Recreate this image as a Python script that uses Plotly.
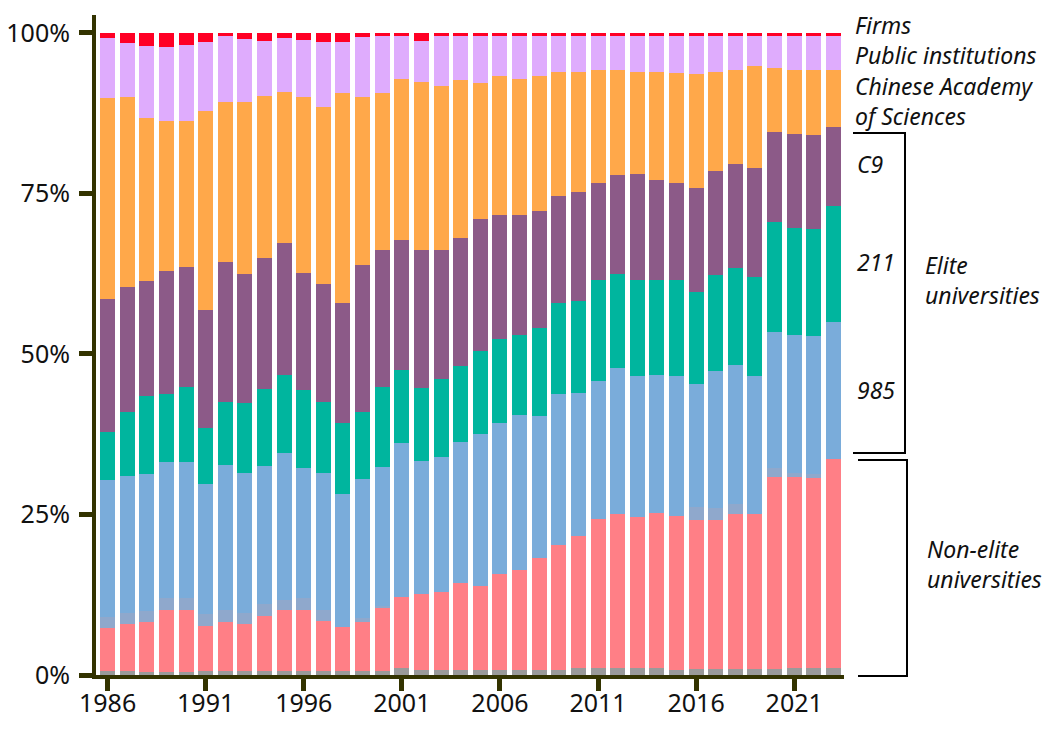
import plotly.graph_objects as go

years = list(range(1986, 2024))

other = [0.6,0.6,0.5,0.4,0.4,0.6,0.6,0.6,0.6,0.6,0.6,0.6,0.6,0.6,0.6,
         1.1,0.8,0.8,0.8,0.8,0.8,0.8,0.8,0.8,
         1.1,1.1,1.1,1.1,1.1,0.8,0.9,0.9,0.9,0.9,0.9,1.1,1.1,1.1]
non_elite = [6.7,7.3,7.8,9.8,9.8,7.1,7.7,7.3,8.6,9.5,9.6,7.8,6.9,7.7,9.8,
             11.0,11.8,12.1,13.5,13.1,15.0,15.6,17.4,19.4,20.5,23.2,23.9,23.5,24.1,24.0,
             23.2,23.2,24.1,24.1,30.0,29.8,29.6,32.5]
mixed = [1.7,1.7,1.7,1.8,1.8,1.8,1.8,1.7,1.9,1.6,1.8,1.8,0.0,0.6,0.4,
         0,0,0,0,0,0,0,0,0,0,0,0,0,0,0,
         2.0,1.9,1.7,0.0,1.3,0.6,0.6,0.0]
u985 = [21.4,21.4,21.3,21.2,21.2,20.2,22.6,21.9,21.4,22.9,20.2,21.3,20.7,21.7,21.6,
        24.0,20.7,21.1,22.0,23.7,23.4,24.1,22.1,23.6,22.3,21.5,22.8,21.9,21.6,21.7,
        19.2,21.3,21.6,21.5,21.3,21.5,21.5,21.4]
u211 = [7.5,9.9,12.2,10.6,11.6,8.7,9.8,10.8,12.0,12.2,12.2,11.1,11.0,10.4,12.5,
        11.4,11.4,12.1,11.8,12.8,13.2,12.5,13.7,14.2,14.4,15.8,14.6,15.1,14.8,15.1,
        14.4,15.0,15.1,15.5,17.0,16.6,16.7,18.1]
c9 = [20.6,19.5,17.9,19.1,18.8,18.4,21.8,20.1,20.5,20.5,18.2,18.3,18.7,22.9,21.3,
      20.2,21.5,20.1,19.9,20.7,19.2,18.6,18.3,16.6,16.9,15.1,15.5,16.4,15.5,15.1,
      16.2,16.2,16.2,17.0,14.1,14.6,14.6,12.3]
cas = [31.4,29.6,25.4,23.4,22.7,31.0,24.9,26.8,25.2,23.5,27.4,27.5,32.7,26.1,24.5,
       25.1,26.1,25.6,24.7,21.1,21.7,21.2,21.0,19.4,18.8,17.5,16.4,16.0,16.8,17.0,
       17.7,15.5,14.7,15.8,10.0,10.1,10.2,8.9]
public = [9.3,8.5,11.1,11.5,11.9,10.8,10.3,9.8,8.5,8.4,8.9,10.2,8.0,9.4,8.8,
          6.7,6.4,7.7,6.9,7.4,6.3,6.8,6.3,5.6,5.6,5.4,5.3,5.6,5.7,5.9,
          6.0,5.6,5.3,4.8,5.0,5.3,5.3,5.3]
firms = [0.8,1.5,2.1,2.2,1.8,1.4,0.5,1.0,1.3,0.8,1.1,1.4,1.4,0.6,0.5,
         0.5,1.3,0.5,0.4,0.4,0.4,0.4,0.4,0.4,0.4,0.4,0.4,0.4,0.4,0.4,
         0.4,0.4,0.4,0.4,0.4,0.4,0.4,0.4]

series = [
    ("Other", other, "#9a9a9a"),
    ("Non-elite universities", non_elite, "#ff7f86"),
    ("Mixed", mixed, "#8fa8cc"),
    ("985", u985, "#7aacda"),
    ("211", u211, "#00b59e"),
    ("C9", c9, "#8c5a88"),
    ("Chinese Academy of Sciences", cas, "#ffa84a"),
    ("Public institutions", public, "#dfacfd"),
    ("Firms", firms, "#ff0025"),
]

x_ticks = [1986, 1991, 1996, 2001, 2006, 2011, 2016, 2021]
y_ticks = [0, 25, 50, 75, 100]
y_text = ["0%", "25%", "50%", "75%", "100%"]

fig = go.Figure()
for name, vals, col in series:
    fig.add_trace(go.Bar(x=years, y=vals, name=name, marker=dict(color=col, line=dict(width=0))))

AX = "#333300"
FONT = "Noto Sans"
L, R, T, B = 96, 213, 15, 58
W, H = 1057, 733
pw, ph = W - L - R, H - T - B

def px(x):
    return (x - L) / pw

def py(y):
    return (H - B - y) / ph

tickfont = dict(family=FONT, size=25, color="#111111")
fig.update_layout(
    width=W, height=H,
    margin=dict(l=L, r=R, t=T, b=B, autoexpand=False),
    barmode="stack", bargap=0.235,
    plot_bgcolor="white", paper_bgcolor="white",
    showlegend=False,
    font=dict(family=FONT, size=24, color="#111111"),
    xaxis=dict(range=[1985.41, 2023.54], tickvals=x_ticks, ticks="outside", ticklen=12,
               tickwidth=5, tickcolor=AX, showline=True, linecolor=AX, linewidth=4,
               showgrid=False, zeroline=False, tickfont=tickfont, automargin=False,
               ticklabelstandoff=-9),
    yaxis=dict(range=[0, 102.8], tickvals=y_ticks, ticktext=y_text, ticks="outside", ticklen=13,
               tickwidth=5, tickcolor=AX, showline=True, linecolor=AX, linewidth=4,
               showgrid=False, zeroline=False, tickfont=tickfont, automargin=False,
               ticklabelstandoff=4),
)

labels = [
    ("Firms<br>Public institutions", 853, 40),
    ("Chinese Academy<br>of Sciences", 853, 101),
    ("C9", 855, 164),
    ("211", 855, 262),
    ("985", 855, 390),
    ("Elite<br>universities", 923, 280),
    ("Non-elite<br>universities", 925, 564),
]
for txt, x, y in labels:
    txt = "<br>".join("<i>" + t + "</i>" for t in txt.split("<br>"))
    fig.add_annotation(text=txt, x=px(x), y=py(y), xref="paper", yref="paper",
                       xanchor="left", yanchor="middle", align="left", showarrow=False,
                       font=dict(family=FONT, size=23, color="#111111"))

brackets = [
    [(853, 133), (905, 133), (905, 453), (853, 453)],
    [(858, 460), (907, 460), (907, 676), (858, 676)],
]
for pts in brackets:
    path = "M " + " L ".join(f"{px(a):.5f},{py(b):.5f}" for a, b in pts)
    fig.add_shape(type="path", path=path, xref="paper", yref="paper",
                  line=dict(color="black", width=2))

fig.write_html("out.html")
